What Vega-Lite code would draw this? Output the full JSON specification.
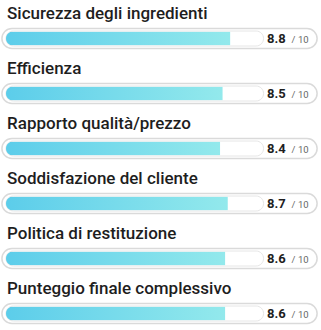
{
  "$schema": "https://vega.github.io/schema/vega-lite/v6.json",
  "width": 321,
  "height": 330,
  "padding": 0,
  "autosize": {"type": "none"},
  "background": "white",
  "config": {"view": {"stroke": null}},
  "data": {
    "values": [
      {"criterio": "Sicurezza degli ingredienti", "punteggio": 8.8},
      {"criterio": "Efficienza", "punteggio": 8.5},
      {"criterio": "Rapporto qualità/prezzo", "punteggio": 8.4},
      {"criterio": "Soddisfazione del cliente", "punteggio": 8.7},
      {"criterio": "Politica di restituzione", "punteggio": 8.6},
      {"criterio": "Punteggio finale complessivo", "punteggio": 8.6}
    ]
  },
  "encoding": {
    "y": {
      "field": "criterio",
      "type": "nominal",
      "sort": null,
      "axis": null,
      "scale": {"range": [11, 341], "paddingInner": 0, "paddingOuter": 0}
    }
  },
  "layer": [
    {
      "mark": {"type": "bar", "orient": "horizontal", "height": 20, "cornerRadius": 10, "fill": "white", "stroke": "#dadada", "strokeWidth": 1.5},
      "encoding": {
        "x": {"datum": -0.16, "type": "quantitative", "scale": {"domain": [0, 10], "range": [6, 261], "nice": false, "zero": false}, "axis": null},
        "x2": {"datum": 12.2, "type": "quantitative"}
      }
    },
    {
      "mark": {"type": "bar", "orient": "horizontal", "height": 15, "cornerRadius": 7.5, "fill": "white", "stroke": "#e6e6e6", "strokeWidth": 1},
      "encoding": {
        "x": {"datum": 0, "type": "quantitative", "scale": {"domain": [0, 10], "range": [6, 261], "nice": false, "zero": false}, "axis": null},
        "x2": {"datum": 10.1, "type": "quantitative"}
      }
    },
    {
      "mark": {
        "type": "bar",
        "orient": "horizontal",
        "height": 14,
        "cornerRadiusTopLeft": 7,
        "cornerRadiusBottomLeft": 7,
        "fill": {
          "gradient": "linear",
          "x1": 0, "y1": 0, "x2": 1, "y2": 0,
          "stops": [
            {"offset": 0, "color": "#5ccdea"},
            {"offset": 1, "color": "#93e9ec"}
          ]
        }
      },
      "encoding": {
        "x": {"field": "punteggio", "type": "quantitative", "scale": {"domain": [0, 10], "range": [6, 261], "nice": false, "zero": false}, "axis": null}
      }
    },
    {
      "mark": {"type": "text", "align": "left", "baseline": "alphabetic", "dy": -20, "font": "Roboto", "fontSize": 17, "fontWeight": 500, "color": "#1e1e1e"},
      "encoding": {
        "x": {"datum": 0.04, "type": "quantitative", "scale": {"domain": [0, 10], "range": [6, 261], "nice": false, "zero": false}, "axis": null},
        "text": {"field": "criterio"}
      }
    },
    {
      "mark": {"type": "text", "align": "left", "baseline": "alphabetic", "dy": 4.2, "font": "Roboto", "fontSize": 13, "fontWeight": "bold", "color": "#1e1e1e"},
      "encoding": {
        "x": {"datum": 10.24, "type": "quantitative", "scale": {"domain": [0, 10], "range": [6, 261], "nice": false, "zero": false}, "axis": null},
        "text": {"field": "punteggio", "format": ".1f"}
      }
    },
    {
      "mark": {"type": "text", "align": "left", "baseline": "alphabetic", "dy": 4.2, "font": "Roboto", "fontSize": 9.5, "color": "#666666", "text": "/ 10"},
      "encoding": {
        "x": {"datum": 11.2, "type": "quantitative", "scale": {"domain": [0, 10], "range": [6, 261], "nice": false, "zero": false}, "axis": null}
      }
    }
  ]
}
